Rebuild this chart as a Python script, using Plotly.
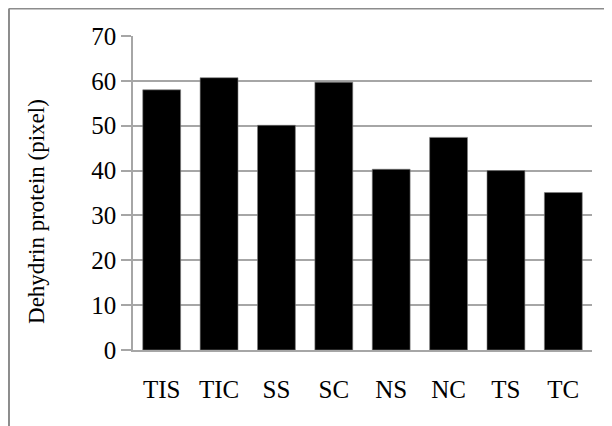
import plotly.graph_objects as go

categories = ["TIS", "TIC", "SS", "SC", "NS", "NC", "TS", "TC"]
values = [58.0, 60.7, 50.1, 59.7, 40.3, 47.4, 40.0, 35.1]
y_ticks = [0, 10, 20, 30, 40, 50, 60, 70]
y_title = "Dehydrin protein (pixel)"

FONT = "Liberation Serif"
GRID = "#a6a6a6"

fig = go.Figure(go.Bar(
    x=categories, y=values,
    marker=dict(color="black", line=dict(color="#7f7f7f", width=0.6)),
))

fig.update_layout(
    width=612, height=426,
    margin=dict(l=125, r=28, t=28, b=84),
    paper_bgcolor="white", plot_bgcolor="white",
    bargap=0.34,
    showlegend=False,
    font=dict(family=FONT, size=25, color="black"),
)

fig.update_xaxes(
    showline=True, linecolor=GRID, linewidth=1.5,
    showgrid=False, ticks="", ticklabelstandoff=16,
    tickfont=dict(family=FONT, size=25, color="black"),
)
fig.update_yaxes(
    range=[0, 70], tickvals=y_ticks,
    showline=True, linecolor=GRID, linewidth=1.5,
    showgrid=True, gridcolor=GRID, gridwidth=1.5,
    ticks="outside", ticklen=10, tickcolor=GRID, tickwidth=1.5,
    tickfont=dict(family=FONT, size=25, color="black"),
    zeroline=False,
)

# y-axis title (placed slightly below centre, as in the original)
fig.add_annotation(
    text=y_title, textangle=-90, showarrow=False,
    xref="paper", yref="paper", x=-0.2092, y=0.4427,
    xanchor="center", yanchor="middle",
    font=dict(family=FONT, size=23, color="black"),
)

# outer chart frame (top and left edges visible)
fig.add_shape(type="line", xref="paper", yref="paper",
              x0=-0.2702, y0=1.0876, x1=1.2, y1=1.0876,
              line=dict(color="#8c8c8c", width=2))
fig.add_shape(type="line", xref="paper", yref="paper",
              x0=-0.2702, y0=1.0876, x1=-0.2702, y1=-0.4,
              line=dict(color="#8c8c8c", width=2))

fig.write_html("out.html")
